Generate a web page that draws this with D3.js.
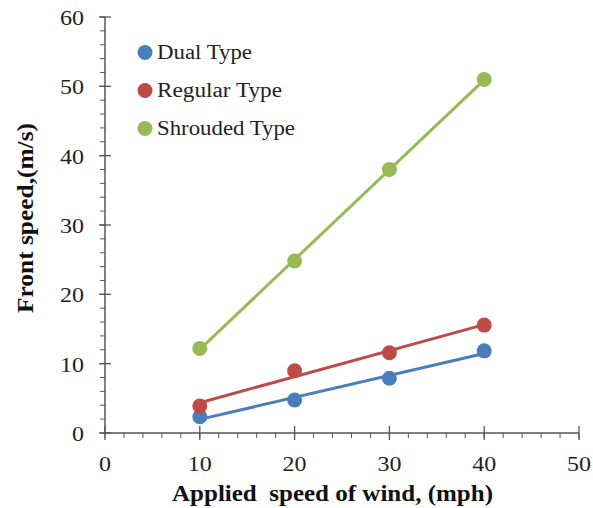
<!DOCTYPE html>
<html><head><meta charset="utf-8">
<script src="https://cdn.jsdelivr.net/npm/d3@7"></script>
<style>body{margin:0;background:#fff}svg{display:block}</style>
</head><body>
<script>
const xValues = [10, 20, 30, 40];
const seriesNames = ["Dual Type", "Regular Type", "Shrouded Type"];
const dualValues = [2.35, 4.75, 7.9, 11.85];
const regularValues = [3.9, 8.97, 11.57, 15.56];
const shroudedValues = [12.2, 24.8, 38.0, 51.0];
const colors = ["#4a7ebb", "#be4b48", "#98b954"];
const xTicks = [0, 10, 20, 30, 40, 50];
const yTicks = [0, 10, 20, 30, 40, 50, 60];

const W = 593, H = 508;
const svg = d3.select("body").append("svg").attr("width", W).attr("height", H);
const x = d3.scaleLinear().domain([0, 50]).range([105, 579]);
const y = d3.scaleLinear().domain([0, 60]).range([433, 17]);
const font = "'Liberation Serif', 'Times New Roman', serif";
const axisColor = "#555";
const digitW = 12;

const g = svg.append("g");
// minor ticks
d3.range(0, 50.01, 2).forEach(v => {
  g.append("line").attr("x1", x(v)).attr("x2", x(v)).attr("y1", y(0)).attr("y2", y(0) + 5)
    .attr("stroke", axisColor).attr("stroke-width", 1);
});
d3.range(0, 60.01, 2).forEach(v => {
  g.append("line").attr("x1", x(0) - 5).attr("x2", x(0)).attr("y1", y(v)).attr("y2", y(v))
    .attr("stroke", axisColor).attr("stroke-width", 1);
});
// major ticks + labels
xTicks.forEach(v => {
  g.append("line").attr("x1", x(v)).attr("x2", x(v)).attr("y1", y(0) - 7).attr("y2", y(0) + 7)
    .attr("stroke", axisColor).attr("stroke-width", 1.3);
  const s = String(v);
  g.append("text").attr("x", x(v)).attr("y", 471).attr("text-anchor", "middle")
    .attr("font-family", font).attr("font-size", 22).attr("fill", "#222")
    .attr("textLength", s.length * digitW).attr("lengthAdjust", "spacingAndGlyphs").text(s);
});
yTicks.forEach(v => {
  g.append("line").attr("x1", x(0) - 6).attr("x2", x(0) + 6).attr("y1", y(v)).attr("y2", y(v))
    .attr("stroke", axisColor).attr("stroke-width", 1.3);
  const s = String(v);
  g.append("text").attr("x", 84).attr("y", y(v) + 8).attr("text-anchor", "end")
    .attr("font-family", font).attr("font-size", 22).attr("fill", "#222")
    .attr("textLength", s.length * digitW).attr("lengthAdjust", "spacingAndGlyphs").text(s);
});
// axis lines
g.append("line").attr("x1", x(0)).attr("x2", x(50)).attr("y1", y(0)).attr("y2", y(0)).attr("stroke", axisColor).attr("stroke-width", 1.5);
g.append("line").attr("x1", x(0)).attr("x2", x(0)).attr("y1", y(0)).attr("y2", y(60)).attr("stroke", axisColor).attr("stroke-width", 1.5);

// series with linear trendlines
const series = [dualValues, regularValues, shroudedValues];
function fit(xs, ys) {
  const mx = d3.mean(xs), my = d3.mean(ys);
  const num = d3.sum(xs, (v, i) => (v - mx) * (ys[i] - my));
  const den = d3.sum(xs, v => (v - mx) * (v - mx));
  const b = num / den;
  return t => my + b * (t - mx);
}
series.forEach((vals, si) => {
  const f = fit(xValues, vals);
  const x0 = d3.min(xValues), x1 = d3.max(xValues);
  svg.append("line").attr("x1", x(x0)).attr("y1", y(f(x0))).attr("x2", x(x1)).attr("y2", y(f(x1)))
    .attr("stroke", colors[si]).attr("stroke-width", 3);
  svg.selectAll(null).data(vals).enter().append("circle")
    .attr("cx", (d, i) => x(xValues[i])).attr("cy", d => y(d)).attr("r", 7.5)
    .attr("fill", colors[si]);
});

// legend
const legendWidths = [95, 125, 138];
seriesNames.forEach((name, i) => {
  const ly = 52.5 + i * 38;
  svg.append("circle").attr("cx", 145).attr("cy", ly).attr("r", 7.5).attr("fill", colors[i]);
  svg.append("text").attr("x", 157).attr("y", ly + 6.5).attr("font-family", font).attr("font-size", 20)
    .attr("fill", "#222").attr("textLength", legendWidths[i]).attr("lengthAdjust", "spacingAndGlyphs").text(name);
});

// axis titles
svg.append("text").attr("x", 332.5).attr("y", 501).attr("text-anchor", "middle").attr("font-family", font)
  .attr("font-size", 23).attr("font-weight", "bold").attr("fill", "#111").style("white-space", "pre")
  .attr("textLength", 321).attr("lengthAdjust", "spacingAndGlyphs").text("Applied  speed of wind, (mph)");
svg.append("text").attr("transform", "translate(33,218) rotate(-90)").attr("text-anchor", "middle")
  .attr("font-family", font).attr("font-size", 23).attr("font-weight", "bold").attr("fill", "#111")
  .attr("textLength", 190).attr("lengthAdjust", "spacingAndGlyphs").text("Front speed,(m/s)");
</script>
</body></html>
